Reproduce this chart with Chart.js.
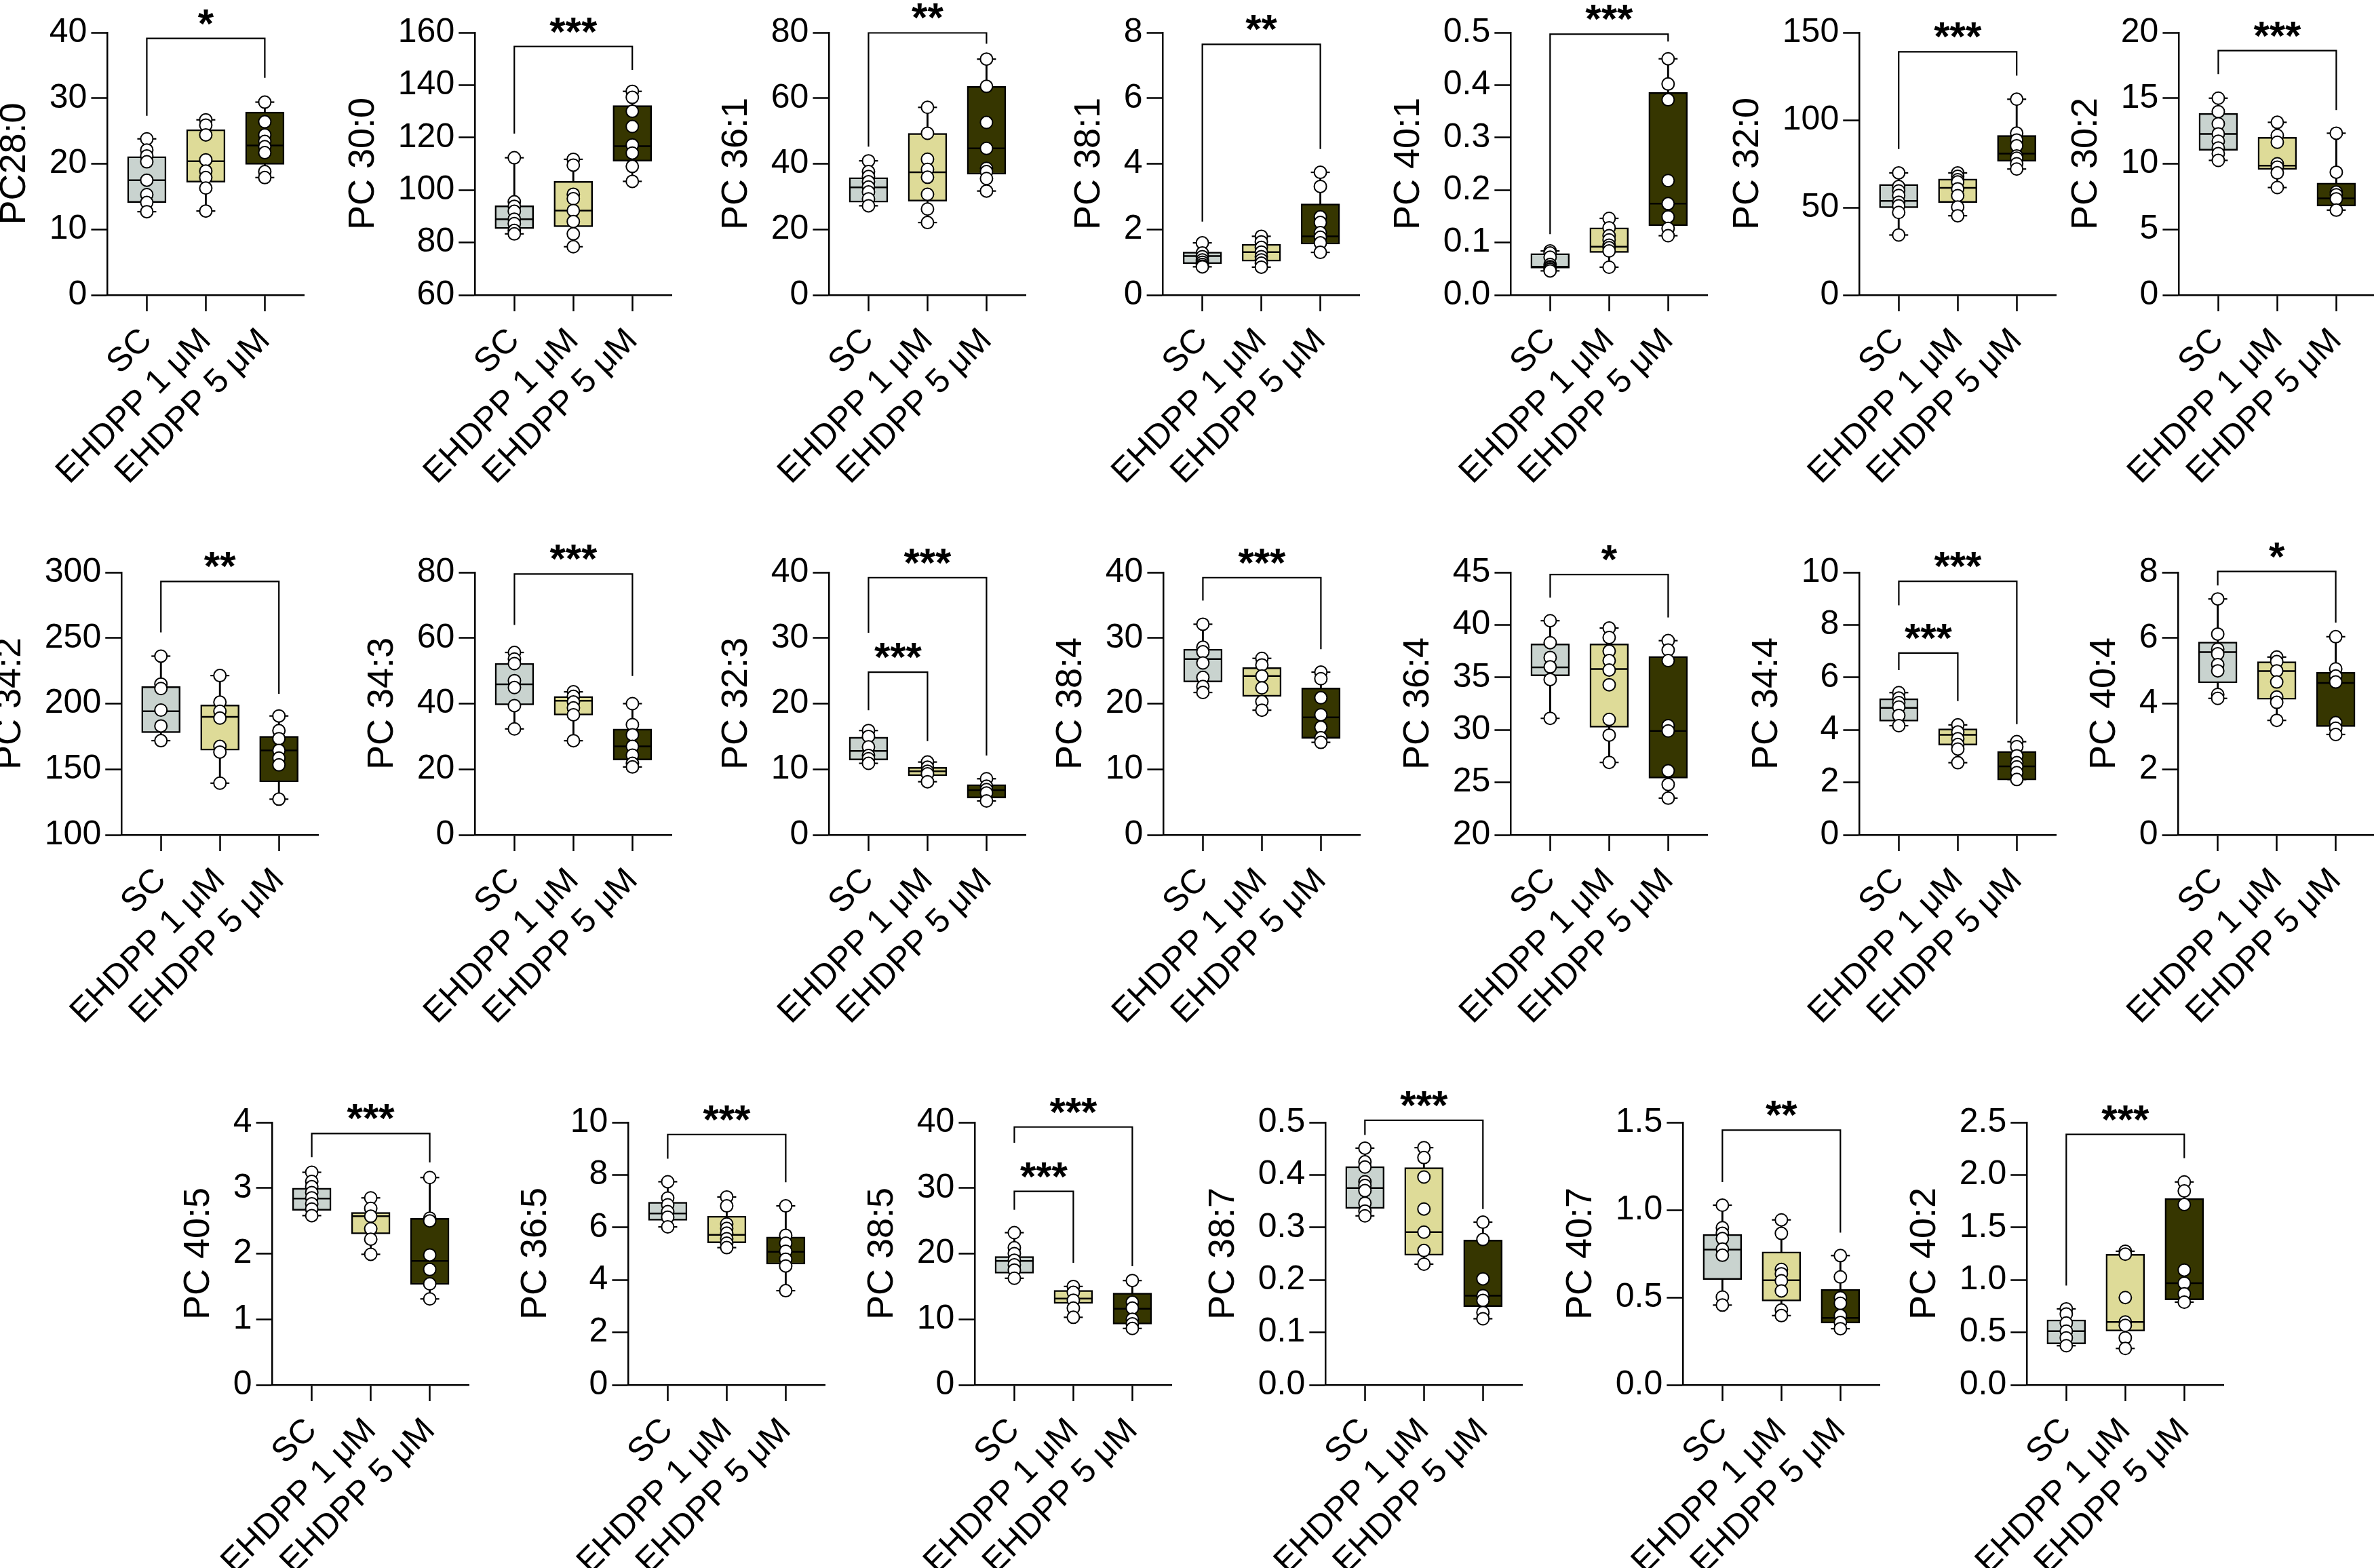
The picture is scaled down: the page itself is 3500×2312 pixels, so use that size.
<!DOCTYPE html>
<html lang="en">
<head>
    <meta charset="UTF-8">
    <title>PC species box plots</title>
    <script src="https://cdn.jsdelivr.net/npm/chart.js"></script>
    <style>
        * { box-sizing: border-box; margin: 0; padding: 0; }
        body { background: #fff; width: 3500px; height: 2312px; position: relative; overflow: hidden; }
        canvas { position: absolute; }
    </style>
</head>
<body>
<script>
    // ---- data ----
    const groups = ['SC', 'EHDPP 1 μM', 'EHDPP 5 μM'];

    const lipids = ['PC28:0', 'PC 30:0', 'PC 36:1', 'PC 38:1', 'PC 40:1', 'PC 32:0', 'PC 30:2',
                    'PC 34:2', 'PC 34:3', 'PC 32:3', 'PC 38:4', 'PC 36:4', 'PC 34:4', 'PC 40:4',
                    'PC 40:5', 'PC 36:5', 'PC 38:5', 'PC 38:7', 'PC 40:7', 'PC 40:2'];

    const yMin  = [0, 60, 0, 0, 0, 0, 0,   100, 0, 0, 0, 20, 0, 0,   0, 0, 0, 0, 0, 0];
    const yMax  = [40, 160, 80, 8, 0.5, 150, 20,   300, 80, 40, 40, 45, 10, 8,   4, 10, 40, 0.5, 1.5, 2.5];
    const yStep = [10, 20, 20, 2, 0.1, 50, 5,   50, 20, 10, 10, 5, 2, 2,   1, 2, 10, 0.1, 0.5, 0.5];

    // individual samples per group: [SC, EHDPP 1 μM, EHDPP 5 μM]
    const values = [
        [[23.8, 22.1, 21.2, 20.3, 17.5, 15.3, 14.1, 12.7], [26.7, 25.9, 24.4, 20.6, 18.9, 17.9, 16.3, 12.8], [29.4, 26.4, 24.4, 23.4, 22.6, 21.7, 18.8, 17.9]],
        [[112.3, 95.5, 93.8, 91.9, 88.9, 87.2, 84.6, 83.3], [111.7, 109.5, 98.4, 96.7, 92.2, 88.0, 83.3, 78.4], [137.6, 135.3, 130.0, 124.2, 117.2, 114.1, 109.0, 103.3]],
        [[40.9, 37.6, 36.1, 34.5, 32.9, 31.4, 29.3, 27.2], [57.2, 49.3, 41.4, 38.3, 35.9, 30.7, 26.2, 22.1], [71.9, 63.6, 52.6, 44.7, 38.6, 37.6, 35.5, 31.7]],
        [[1.59, 1.28, 1.17, 1.07, 1.0, 0.93, 0.88, 0.86], [1.79, 1.62, 1.45, 1.31, 1.17, 1.07, 0.97, 0.85], [3.74, 3.31, 2.38, 2.21, 1.90, 1.76, 1.59, 1.30]],
        [[0.084, 0.080, 0.072, 0.058, 0.054, 0.052, 0.049, 0.046], [0.146, 0.128, 0.113, 0.105, 0.095, 0.090, 0.084, 0.053], [0.450, 0.402, 0.372, 0.218, 0.174, 0.149, 0.127, 0.113]],
        [[69.8, 62.0, 59.5, 56.9, 53.0, 51.0, 47.2, 34.3], [69.8, 67.8, 65.9, 64.6, 60.7, 56.8, 50.3, 45.3], [111.9, 92.5, 88.6, 85.3, 79.5, 78.2, 75.0, 72.0]],
        [[15.0, 13.97, 13.05, 12.28, 11.72, 11.2, 10.78, 10.26], [13.16, 12.16, 11.64, 10.0, 9.74, 9.31, 8.19], [12.33, 9.36, 7.84, 7.64, 7.33, 6.47]],
        [[236.2, 214.9, 211.5, 195.1, 183.0, 171.8], [221.4, 201.1, 194.2, 189.0, 167.4, 163.1, 139.4], [190.6, 179.4, 173.3, 164.4, 158.5, 153.3, 127.2]],
        [[55.6, 53.6, 52.2, 47.0, 44.9, 39.4, 32.3], [43.6, 42.2, 40.5, 38.7, 36.6, 28.7], [40.0, 33.6, 30.5, 27.0, 24.3, 21.8, 20.7]],
        [[15.9, 15.0, 13.4, 12.1, 11.6, 10.9], [11.1, 10.3, 9.7, 9.3, 8.1], [8.55, 7.41, 6.9, 6.38, 5.17]],
        [[32.1, 28.6, 27.9, 26.2, 24.0, 22.6, 21.7], [26.9, 25.9, 24.2, 22.4, 20.3, 19.0], [24.8, 23.8, 20.9, 18.3, 16.4, 14.8, 14.1]],
        [[40.4, 38.3, 36.9, 36.0, 34.8, 31.1], [39.7, 38.8, 37.5, 36.6, 35.7, 34.3, 31.0, 29.5, 26.9], [38.5, 37.6, 36.6, 30.4, 29.9, 26.1, 24.8, 23.5]],
        [[5.42, 5.21, 5.04, 4.87, 4.55, 4.16], [4.19, 3.92, 3.66, 3.44, 3.27, 2.75], [3.55, 3.36, 3.01, 2.75, 2.59, 2.37, 2.11]],
        [[7.19, 6.12, 5.66, 5.52, 5.19, 5.0, 4.28, 4.16], [5.42, 5.28, 5.0, 4.66, 4.20, 4.04, 3.49], [6.04, 5.06, 4.84, 4.66, 3.42, 3.25, 3.06]],
        [[3.24, 3.10, 3.02, 2.93, 2.85, 2.76, 2.68, 2.58], [2.85, 2.69, 2.57, 2.38, 2.22, 1.99], [3.16, 2.54, 2.50, 1.98, 1.76, 1.54, 1.31]],
        [[7.74, 7.12, 6.86, 6.6, 6.39, 6.02], [7.16, 6.82, 6.13, 5.96, 5.78, 5.57, 5.40, 5.23], [6.82, 5.70, 5.40, 5.09, 4.79, 4.53, 3.59]],
        [[23.2, 20.9, 20.0, 19.0, 18.3, 17.5, 16.25], [15.0, 14.1, 12.9, 11.7, 10.3], [15.9, 12.6, 11.7, 10.0, 9.3, 8.6]],
        [[0.451, 0.425, 0.415, 0.387, 0.380, 0.370, 0.346, 0.331, 0.322], [0.452, 0.433, 0.396, 0.335, 0.291, 0.256, 0.230], [0.310, 0.277, 0.202, 0.170, 0.161, 0.138, 0.126]],
        [[1.027, 0.898, 0.866, 0.836, 0.776, 0.741, 0.502, 0.456], [0.943, 0.866, 0.660, 0.635, 0.595, 0.537, 0.428, 0.396], [0.739, 0.617, 0.498, 0.466, 0.396, 0.357, 0.321]],
        [[0.724, 0.675, 0.589, 0.512, 0.448, 0.373], [1.273, 1.245, 0.832, 0.599, 0.567, 0.448, 0.347], [1.933, 1.847, 1.718, 1.094, 0.969, 0.868, 0.788]]
    ];

    // box edges and medians as drawn
    const q1 = [
        [14.1, 17.2, 19.9], [85.3, 86.0, 111.0], [28.3, 28.6, 36.8], [0.95, 1.03, 1.55], [0.051, 0.081, 0.132], [49.8, 52.8, 76.4], [11.03, 9.57, 6.78],
        [177.8, 164.5, 140.3], [39.6, 36.5, 22.8], [11.4, 9.0, 5.62], [23.3, 21.1, 14.7], [35.13, 30.24, 25.4], [4.33, 3.42, 2.09], [4.63, 4.13, 3.30],
        [2.66, 2.30, 1.53], [6.27, 5.41, 4.60], [17.0, 12.4, 9.26], [0.336, 0.247, 0.149], [0.602, 0.479, 0.353], [0.390, 0.512, 0.810]
    ];
    const median = [
        [17.5, 20.4, 22.8], [88.9, 92.2, 116.7], [32.8, 37.4, 44.7], [1.19, 1.31, 1.79], [0.054, 0.092, 0.174], [53.8, 61.2, 80.8], [12.28, 9.86, 7.36],
        [194.2, 189.9, 164.4], [45.9, 40.9, 27.0], [12.8, 9.7, 6.83], [26.8, 24.2, 17.9], [35.95, 35.8, 29.9], [4.84, 3.81, 2.61], [5.57, 4.99, 4.63],
        [2.84, 2.57, 1.89], [6.53, 5.72, 5.07], [18.9, 13.15, 11.6], [0.375, 0.291, 0.170], [0.773, 0.598, 0.383], [0.512, 0.599, 0.969]
    ];
    const q3 = [
        [21.1, 25.2, 27.9], [94.0, 103.3, 132.2], [35.8, 49.3, 63.6], [1.31, 1.55, 2.78], [0.079, 0.128, 0.386], [63.2, 66.3, 91.2], [13.84, 12.03, 8.53],
        [213.0, 199.0, 175.2], [52.3, 42.2, 32.3], [14.9, 10.3, 7.66], [28.3, 25.5, 22.4], [38.19, 38.19, 37.0], [5.19, 4.04, 3.18], [5.88, 5.28, 4.96],
        [3.0, 2.63, 2.54], [6.96, 6.43, 5.64], [19.59, 14.42, 14.0], [0.416, 0.414, 0.276], [0.860, 0.760, 0.546], [0.620, 1.245, 1.776]
    ];

    // significance brackets: [from group, to group, bar level, left leg end, right leg end, label]
    const brackets = [
        [[0, 2, 39.1, 27.3, 33.1, '*']],
        [[0, 2, 154.7, 121.5, 145.8, '***']],
        [[0, 2, 79.9, 45.2, 76.6, '**']],
        [[0, 2, 7.64, 2.24, 4.45, '**']],
        [[0, 2, 0.497, 0.116, 0.483, '***']],
        [[0, 2, 139.0, 83.4, 125.4, '***']],
        [[0, 2, 18.62, 16.84, 14.09, '***']],
        [[0, 2, 293.1, 254.2, 207.5, '**']],
        [[0, 2, 79.5, 64.0, 48.4, '***']],
        [[0, 2, 39.2, 30.8, 12.1, '***'], [0, 1, 24.8, 19.0, 14.3, '***']],
        [[0, 2, 39.2, 35.7, 28.3, '***']],
        [[0, 2, 44.8, 42.6, 40.7, '*']],
        [[0, 2, 9.66, 8.75, 4.22, '***'], [0, 1, 6.93, 6.28, 5.10, '***']],
        [[0, 2, 8.03, 7.60, 6.47, '*']],
        [[0, 2, 3.83, 3.47, 3.39, '***']],
        [[0, 2, 9.54, 8.62, 7.72, '***']],
        [[0, 2, 39.3, 36.9, 18.1, '***'], [0, 1, 29.5, 26.7, 18.6, '***']],
        [[0, 2, 0.504, 0.476, 0.335, '***']],
        [[0, 2, 1.456, 1.159, 0.870, '**']],
        [[0, 2, 2.386, 0.947, 2.160, '***']]
    ];

    // ---- layout (page pixels) ----
    const axisX = [158, 700, 1222, 1715, 2227, 2741, 3212,
                   179, 700, 1222, 1715, 2227, 2741, 3212,
                   402, 926, 1437, 1954, 2481, 2988];
    const rowTop = [48, 844, 1655];
    const rowOf = i => (i < 7 ? 0 : i < 14 ? 1 : 2);

    const PLOT_H = 387, AXIS_LEN = 290, PAD_TOP = 80, X_H = 320, CW = 720;
    const boxColors = ['#c9d3cf', '#dedb98', '#363600'];
    const FONT = "'Liberation Sans', Arial, sans-serif";

    Chart.defaults.font.family = FONT;
    Chart.defaults.color = '#000';

    const bracketPlugin = {
        id: 'brackets',
        afterDatasetsDraw(chart, args, opts) {
            const { ctx, scales: { x, y } } = chart;
            ctx.save();
            ctx.strokeStyle = '#000';
            ctx.lineWidth = 2.2;
            ctx.fillStyle = '#000';
            ctx.font = 'bold 60px ' + FONT;
            ctx.textAlign = 'center';
            ctx.textBaseline = 'alphabetic';
            for (const [a, b, level, endA, endB, label] of opts.items) {
                const xa = x.getPixelForValue(a), xb = x.getPixelForValue(b);
                const yl = y.getPixelForValue(level);
                ctx.beginPath();
                ctx.moveTo(xa, y.getPixelForValue(endA));
                ctx.lineTo(xa, yl);
                ctx.lineTo(xb, yl);
                ctx.lineTo(xb, y.getPixelForValue(endB));
                ctx.stroke();
                ctx.fillText(label, (xa + xb) / 2, yl - 2);
            }
            ctx.restore();
        }
    };

    lipids.forEach((name, p) => {
        const cv = document.createElement('canvas');
        cv.width = CW;
        cv.height = PAD_TOP + PLOT_H + X_H;
        document.body.appendChild(cv);

        const decimals = yStep[p] < 1 ? 1 : 0;
        const pts = [], meds = [], caps = [], boxes = [], whiskers = [];
        groups.forEach((g, i) => {
            const v = values[p][i];
            const lo = Math.min(...v), hi = Math.max(...v);
            v.forEach(val => pts.push({ x: i, y: val }));
            meds.push({ x: i, y: median[p][i] });
            caps.push({ x: i, y: lo }, { x: i, y: hi });
            boxes.push({ x: i, y: [q1[p][i], q3[p][i]] });
            whiskers.push({ x: i, y: [lo, hi] });
        });

        const chart = new Chart(cv, {
            type: 'bar',
            data: {
                datasets: [
                    { type: 'scatter', data: pts, pointRadius: 9, pointBackgroundColor: '#fff',
                      pointBorderColor: '#000', pointBorderWidth: 2, clip: false, order: 0 },
                    { type: 'scatter', data: meds, pointStyle: 'line', pointRadius: 27,
                      pointBorderColor: '#000', pointBorderWidth: 2.5, clip: false, order: 1 },
                    { type: 'bar', data: boxes, backgroundColor: boxColors, borderColor: '#000',
                      borderWidth: 2.5, borderSkipped: false, barThickness: 57, grouped: false, clip: false, order: 2 },
                    { type: 'scatter', data: caps, pointStyle: 'line', pointRadius: 14,
                      pointBorderColor: '#000', pointBorderWidth: 2.2, clip: false, order: 3 },
                    { type: 'bar', data: whiskers, backgroundColor: '#000', borderWidth: 0,
                      barThickness: 2.2, grouped: false, clip: false, order: 4 }
                ]
            },
            options: {
                responsive: false,
                animation: false,
                events: [],
                layout: { padding: { top: PAD_TOP, left: 0, right: 0, bottom: 0 } },
                plugins: {
                    legend: { display: false },
                    tooltip: { enabled: false },
                    brackets: { items: brackets[p] }
                },
                scales: {
                    x: {
                        type: 'linear',
                        offset: false,
                        min: -0.667,
                        max: 2.667,
                        afterBuildTicks: s => { s.ticks = groups.map((g, i) => ({ value: i })); },
                        afterFit: s => { s.height = X_H; },
                        border: { display: true, color: '#000', width: 2.5 },
                        grid: { display: true, offset: false, drawOnChartArea: false, drawTicks: true, tickLength: 24,
                                tickColor: '#000', tickWidth: 2.5 },
                        ticks: {
                            autoSkip: false,
                            minRotation: 45,
                            maxRotation: 45,
                            padding: 14,
                            font: { size: 50 },
                            callback: v => groups[v]
                        }
                    },
                    y: {
                        min: yMin[p],
                        max: yMax[p],
                        border: { display: true, color: '#000', width: 2.5 },
                        grid: { display: true, drawOnChartArea: false, drawTicks: true, tickLength: 24,
                                tickColor: '#000', tickWidth: 2.5 },
                        ticks: {
                            stepSize: yStep[p],
                            padding: 6,
                            font: { size: 50 },
                            callback: v => Number(v).toFixed(decimals)
                        },
                        title: {
                            display: true,
                            text: name,
                            font: { size: 54 },
                            padding: { top: 0, bottom: 12 }
                        }
                    }
                }
            },
            plugins: [bracketPlugin]
        });

        // fix the x axis length, then place the canvas so the y axis lands where it is in the figure
        chart.options.layout.padding.right = CW - chart.chartArea.left - AXIS_LEN;
        chart.update('none');
        cv.style.left = (axisX[p] - chart.chartArea.left) + 'px';
        cv.style.top = (rowTop[rowOf(p)] - chart.chartArea.top) + 'px';
    });
</script>
</body>
</html>
